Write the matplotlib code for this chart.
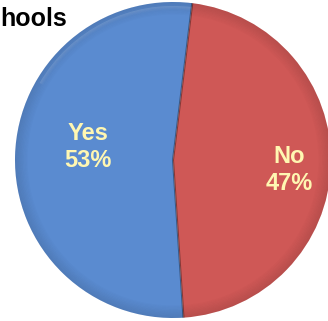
import matplotlib.pyplot as plt
from matplotlib.patches import Wedge
import numpy as np

labels = ["Yes", "No"]
values = [53, 47]
colors = ["#5A8BD0", "#CF5856"]
label_color = "#FFF7B2"
title = "hools"  # tail of the title, the rest lies outside the picture

fig = plt.figure(figsize=(3.28, 3.21), dpi=100)
W, H = 328, 321

# pie centre at (173, 160) px from top-left, radius 158 px
cx, cy, r = 173, 160, 158
ax = fig.add_axes([(cx - r) / W, (H - cy - r) / H, 2 * r / W, 2 * r / H])

wedges, _ = ax.pie(values, colors=colors, startangle=83, radius=1,
                   wedgeprops=dict(linewidth=0))
ax.set_xlim(-1, 1)
ax.set_ylim(-1, 1)
ax.set_aspect("equal")
ax.axis("off")
for w in wedges:
    w.set_clip_on(False)

# bevel: darken the rim, light highlight near the top
for w in wedges:
    t1, t2 = w.theta1, w.theta2
    for k in range(10):
        rr = 1 - k * 0.008
        ring = Wedge((0, 0), rr, t1, t2, width=0.008, color="black",
                     alpha=0.11 * (10 - k) / 10, lw=0, clip_on=False)
        ax.add_patch(ring)
    lo, hi = max(t1, 40), min(t2, 150)
    if hi > lo:
        for k in range(4):
            rr = 0.975 - k * 0.006
            ring = Wedge((0, 0), rr, lo, hi, width=0.006, color="white",
                         alpha=0.12 * (4 - k) / 4, lw=0, clip_on=False)
            ax.add_patch(ring)

# split lines
for w in wedges:
    a = np.deg2rad(w.theta1)
    ax.plot([0, np.cos(a)], [0, np.sin(a)], color="black", alpha=0.35,
            lw=1.5, solid_capstyle="butt", clip_on=False)

fs = 17
ax.text(-0.538, 0.082, f"{labels[0]}\n{values[0]}%", ha="center", va="center",
        color=label_color, fontsize=fs, fontweight="bold",
        family="Liberation Sans", linespacing=1.2)
ax.text(0.734, -0.063, f"{labels[1]}\n{values[1]}%", ha="center", va="center",
        color=label_color, fontsize=fs, fontweight="bold",
        family="Liberation Sans", linespacing=1.2)

fig.text(0.5 / W, (H - 26) / H, title, ha="left", va="baseline",
         fontsize=18, fontweight="bold", family="Liberation Sans")

fig.savefig("out.png", dpi=100)
